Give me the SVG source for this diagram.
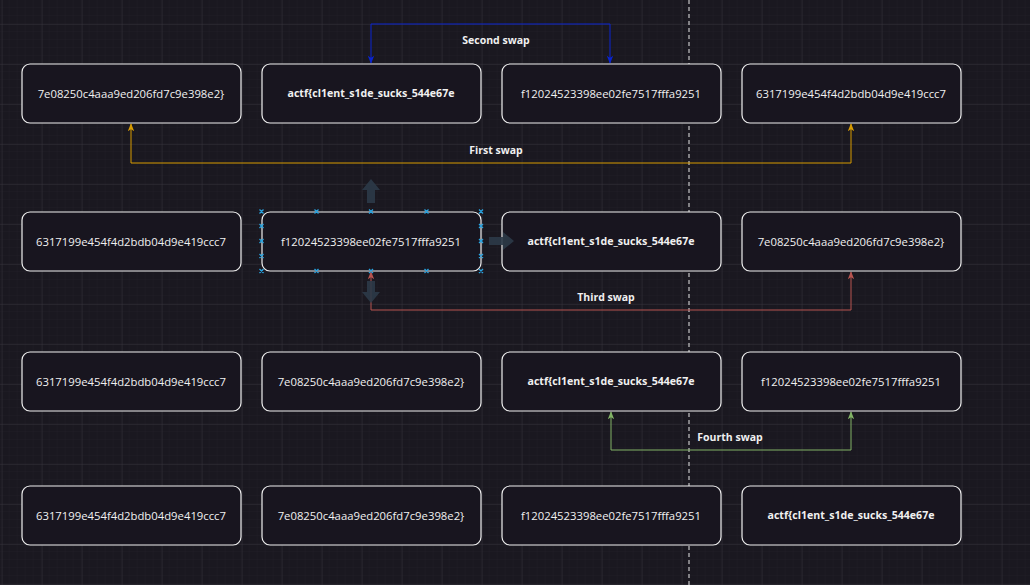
<svg xmlns="http://www.w3.org/2000/svg" width="1030" height="585" viewBox="0 0 1030 585">
<defs>
<pattern id="minor" width="8" height="8" patternUnits="userSpaceOnUse" x="1.7" y="0"><path d="M8 0V8M0 8H8" fill="none" stroke="#24222b" stroke-width="0.6"/></pattern>
<pattern id="major" width="40" height="40" patternUnits="userSpaceOnUse" x="1.7" y="24"><path d="M0 0V40M0 0H40" fill="none" stroke="#34323a" stroke-width="1"/></pattern>
<marker id="mb" viewBox="0 0 10 10" refX="9" refY="5" markerWidth="8" markerHeight="8" orient="auto-start-reverse"><path d="M0 1L10 5L0 9L2.5 5Z" fill="#0a24d0"/></marker>
<marker id="mo" viewBox="0 0 10 10" refX="9" refY="5" markerWidth="8" markerHeight="8" orient="auto-start-reverse"><path d="M0 1L10 5L0 9L2.5 5Z" fill="#d79b00"/></marker>
<marker id="mr" viewBox="0 0 10 10" refX="9" refY="5" markerWidth="8" markerHeight="8" orient="auto-start-reverse"><path d="M0 1L10 5L0 9L2.5 5Z" fill="#b85450"/></marker>
<marker id="mg" viewBox="0 0 10 10" refX="9" refY="5" markerWidth="8" markerHeight="8" orient="auto-start-reverse"><path d="M0 1L10 5L0 9L2.5 5Z" fill="#82b366"/></marker>
</defs>
<style>
.n rect{fill:#18151f;stroke:#f0f0f0;stroke-width:1.2}
.n text{fill:#f0f0f0;font-family:"Open Sans","Noto Sans",sans-serif;font-size:11.3px;text-anchor:middle;dominant-baseline:central}
.n text.b{font-weight:bold;font-size:10.6px}
.c{fill:none;stroke-width:1}
.lbl{fill:#f0f0f0;font-family:"Open Sans","Noto Sans",sans-serif;font-size:10.5px;font-weight:bold;text-anchor:middle;dominant-baseline:central}
.h{stroke:#29a3e0;stroke-width:1.3}
</style>
<rect width="1030" height="585" fill="#1a1820"/>
<rect width="1030" height="585" fill="url(#minor)"/>
<rect width="1030" height="585" fill="url(#major)"/>
<line x1="689" y1="0" x2="689" y2="585" stroke="#e8e8e8" stroke-dasharray="4 3" stroke-width="1"/>
<g id="connectors">
<path class="c" stroke="#0a24d0" d="M371 63V24H610V63" marker-start="url(#mb)" marker-end="url(#mb)"/>
<text class="lbl" x="496" y="40">Second swap</text>
<path class="c" stroke="#d79b00" d="M131 124V163H851V124" marker-start="url(#mo)" marker-end="url(#mo)"/>
<text class="lbl" x="496" y="150">First swap</text>
<path class="c" stroke="#b85450" d="M371 272V310H851V272" marker-start="url(#mr)" marker-end="url(#mr)"/>
<text class="lbl" x="606" y="297">Third swap</text>
<path class="c" stroke="#82b366" d="M611 412V450H851V412" marker-start="url(#mg)" marker-end="url(#mg)"/>
<text class="lbl" x="730" y="437">Fourth swap</text>
</g>
<g id="r1a" class="n"><rect x="22" y="64" width="219" height="59" rx="8"/><text x="131" y="93">7e08250c4aaa9ed206fd7c9e398e2}</text></g>
<g id="r1b" class="n"><rect x="262" y="64" width="219" height="59" rx="8"/><text class="b" x="371" y="93">actf{cl1ent_s1de_sucks_544e67e</text></g>
<g id="r1c" class="n"><rect x="502" y="64" width="219" height="59" rx="8"/><text x="611" y="93">f12024523398ee02fe7517fffa9251</text></g>
<g id="r1d" class="n"><rect x="742" y="64" width="219" height="59" rx="8"/><text x="851" y="93">6317199e454f4d2bdb04d9e419ccc7</text></g>
<g id="r2a" class="n"><rect x="22" y="212" width="219" height="59" rx="8"/><text x="131" y="241">6317199e454f4d2bdb04d9e419ccc7</text></g>
<g id="r2b" class="n"><rect x="262" y="212" width="219" height="59" rx="8"/><text x="371" y="241">f12024523398ee02fe7517fffa9251</text></g>
<g id="r2c" class="n"><rect x="502" y="212" width="219" height="59" rx="8"/><text class="b" x="611" y="241">actf{cl1ent_s1de_sucks_544e67e</text></g>
<g id="r2d" class="n"><rect x="742" y="212" width="219" height="59" rx="8"/><text x="851" y="241">7e08250c4aaa9ed206fd7c9e398e2}</text></g>
<g id="r3a" class="n"><rect x="22" y="352" width="219" height="59" rx="8"/><text x="131" y="381">6317199e454f4d2bdb04d9e419ccc7</text></g>
<g id="r3b" class="n"><rect x="262" y="352" width="219" height="59" rx="8"/><text x="371" y="381">7e08250c4aaa9ed206fd7c9e398e2}</text></g>
<g id="r3c" class="n"><rect x="502" y="352" width="219" height="59" rx="8"/><text class="b" x="611" y="381">actf{cl1ent_s1de_sucks_544e67e</text></g>
<g id="r3d" class="n"><rect x="742" y="352" width="219" height="59" rx="8"/><text x="851" y="381">f12024523398ee02fe7517fffa9251</text></g>
<g id="r4a" class="n"><rect x="22" y="486" width="219" height="59" rx="8"/><text x="131" y="515">6317199e454f4d2bdb04d9e419ccc7</text></g>
<g id="r4b" class="n"><rect x="262" y="486" width="219" height="59" rx="8"/><text x="371" y="515">7e08250c4aaa9ed206fd7c9e398e2}</text></g>
<g id="r4c" class="n"><rect x="502" y="486" width="219" height="59" rx="8"/><text x="611" y="515">f12024523398ee02fe7517fffa9251</text></g>
<g id="r4d" class="n"><rect x="742" y="486" width="219" height="59" rx="8"/><text class="b" x="851" y="515">actf{cl1ent_s1de_sucks_544e67e</text></g>
<g id="hover" fill="#2c3a48" opacity="0.9">
<path d="M371 179L380 190H375V203H367V190H362Z"/>
<path d="M371 303L380 292H375V281H367V292H362Z"/>
<path d="M514 241L503 232V237H489V245H503V250Z"/>
</g>
<g id="handles" class="h">
<path d="M259.5 209.5l4 4m0-4l-4 4M314.5 209.5l4 4m0-4l-4 4M369 209.5l4 4m0-4l-4 4M424.5 209.5l4 4m0-4l-4 4M479 209.5l4 4m0-4l-4 4"/>
<path d="M259.5 269l4 4m0-4l-4 4M314.5 269l4 4m0-4l-4 4M369 269l4 4m0-4l-4 4M424.5 269l4 4m0-4l-4 4M479 269l4 4m0-4l-4 4"/>
<path d="M259.5 224l4 4m0-4l-4 4M259.5 239l4 4m0-4l-4 4M259.5 254l4 4m0-4l-4 4M479 224l4 4m0-4l-4 4M479 239l4 4m0-4l-4 4M479 254l4 4m0-4l-4 4"/>
</g>
</svg>
